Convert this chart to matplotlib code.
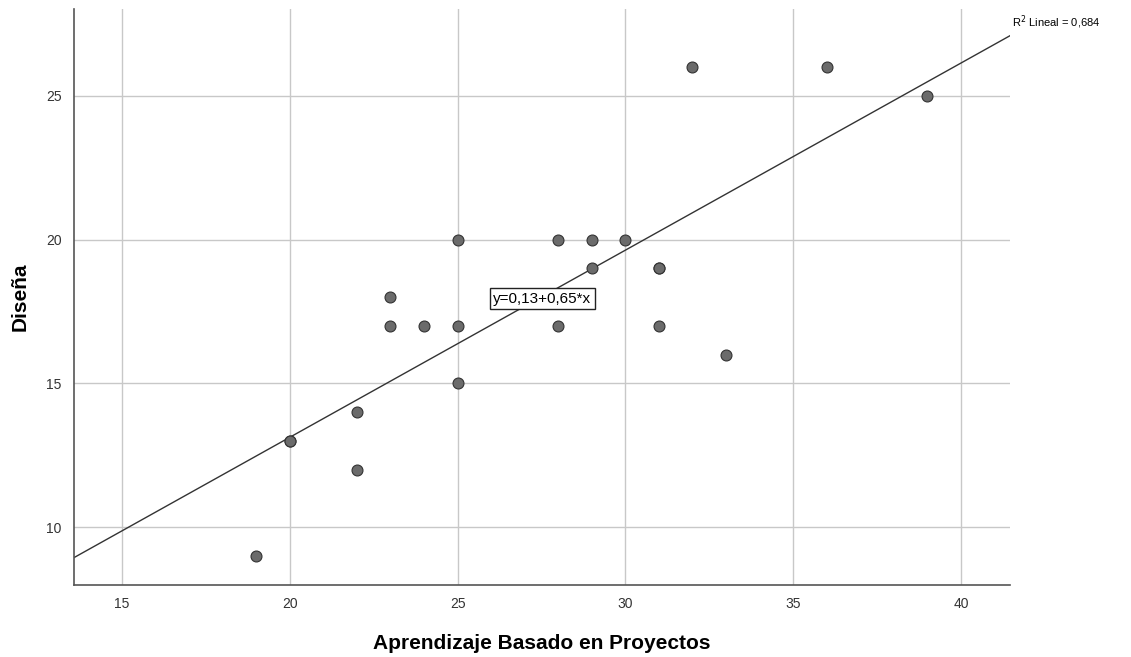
import matplotlib
matplotlib.use("Agg")
import matplotlib.pyplot as plt
import numpy as np

plt.rcParams['font.family'] = ['Liberation Sans', 'DejaVu Sans']

# puntajes
abp = [19, 20, 20, 22, 22, 23, 23, 24, 25, 25, 25, 28, 28, 29, 29, 30, 31, 31, 31, 32, 33, 36, 39]
disena = [9, 13, 13, 14, 12, 18, 17, 17, 20, 17, 15, 20, 17, 20, 19, 20, 19, 19, 17, 26, 16, 26, 25]

intercept = 0.13
slope = 0.65
r2_text = "R$^2$ Lineal = 0,684"
eq_text = "y=0,13+0,65*x"

x_ticks = [15, 20, 25, 30, 35, 40]
y_ticks = [10, 15, 20, 25]

fig = plt.figure(figsize=(11.31, 6.57), dpi=100)
ax = fig.add_axes([0.0654, 0.1096, 0.8276, 0.8764])

xlim = (13.57, 41.46)
ylim = (8.0, 28.0)
ax.set_xlim(*xlim)
ax.set_ylim(*ylim)

ax.grid(True, color='#c8c8c8', linewidth=1.0)
ax.set_axisbelow(True)
for s in ['top', 'right']:
    ax.spines[s].set_visible(False)
for s in ['left', 'bottom']:
    ax.spines[s].set_color('#555555')
    ax.spines[s].set_linewidth(1.2)

ax.scatter(abp, disena, s=62, color='#6b6b6b', edgecolors='#333333', linewidths=0.8, zorder=3)

xs = np.array(xlim)
ax.plot(xs, intercept + slope * xs, color='#333333', linewidth=1.0, zorder=2)

ax.text(xlim[1] + 0.05, intercept + slope * xlim[1] + 0.15, r2_text, fontsize=8,
        ha='left', va='bottom', clip_on=False)
ax.text(27.53, 17.95, eq_text, fontsize=11, ha='center', va='center', zorder=4,
        bbox=dict(boxstyle='square,pad=0.25', facecolor='white', edgecolor='#222222', linewidth=1.0))

ax.set_xticks(x_ticks)
ax.set_yticks(y_ticks)
ax.tick_params(length=0, labelsize=10, labelcolor='#333333', pad=9)

ax.set_xlabel('Aprendizaje Basado en Proyectos', fontsize=15, fontweight='bold', labelpad=16)
ax.set_ylabel('Diseña', fontsize=15, fontweight='bold', labelpad=12)

fig.savefig('out.png', dpi=100)
